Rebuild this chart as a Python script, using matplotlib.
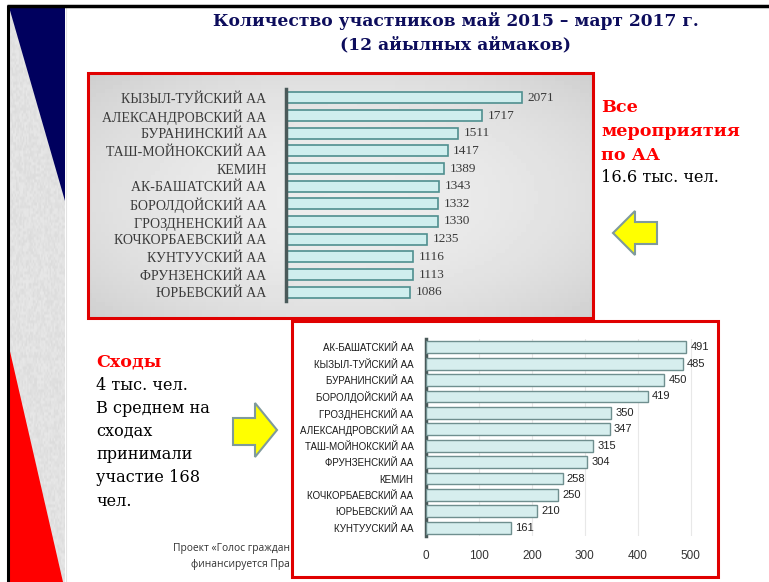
import numpy as np
import matplotlib
matplotlib.use("Agg")
import matplotlib.pyplot as plt
from matplotlib.patches import Polygon, Rectangle

# ---------------- data ----------------
top_labels = ["КЫЗЫЛ-ТУЙСКИЙ АА", "АЛЕКСАНДРОВСКИЙ АА", "БУРАНИНСКИЙ АА",
              "ТАШ-МОЙНОКСКИЙ АА", "КЕМИН", "АК-БАШАТСКИЙ АА",
              "БОРОЛДОЙСКИЙ АА", "ГРОЗДНЕНСКИЙ АА", "КОЧКОРБАЕВСКИЙ АА",
              "КУНТУУСКИЙ АА", "ФРУНЗЕНСКИЙ АА", "ЮРЬЕВСКИЙ АА"]
top_values = [2071, 1717, 1511, 1417, 1389, 1343, 1332, 1330, 1235, 1116, 1113, 1086]

bot_labels = ["АК-БАШАТСКИЙ АА", "КЫЗЫЛ-ТУЙСКИЙ АА", "БУРАНИНСКИЙ АА",
              "БОРОЛДОЙСКИЙ АА", "ГРОЗДНЕНСКИЙ АА", "АЛЕКСАНДРОВСКИЙ АА",
              "ТАШ-МОЙНОКСКИЙ АА", "ФРУНЗЕНСКИЙ АА", "КЕМИН",
              "КОЧКОРБАЕВСКИЙ АА", "ЮРЬЕВСКИЙ АА", "КУНТУУСКИЙ АА"]
bot_values = [491, 485, 450, 419, 350, 347, 315, 304, 258, 250, 210, 161]
bot_ticks = [0, 100, 200, 300, 400, 500]

title_lines = ["Количество участников май 2015 – март 2017 г.", "(12 айылных аймаков)"]

W, H = 769, 582
fig = plt.figure(figsize=(W / 100, H / 100), dpi=100)
fig.patch.set_facecolor("white")

def rect(x0, y0, x1, y1):
    return [x0 / W, 1 - y1 / H, (x1 - x0) / W, (y1 - y0) / H]

SERIF = ["Liberation Serif", "DejaVu Serif"]
WSERIF = ["DejaVu Serif"]
NARROW = ["Liberation Sans Narrow", "Liberation Sans", "DejaVu Sans"]

# ---------------- background / decoration ----------------
bg = fig.add_axes([0, 0, 1, 1])
bg.set_xlim(0, W)
bg.set_ylim(H, 0)
bg.axis("off")

# gray textured band
rng_tex = np.random.default_rng(3)
tex = 0.86 + 0.05 * rng_tex.random((200, 40))
bg.imshow(tex, cmap="gray", vmin=0, vmax=1, extent=(9, 65, H, 7), aspect="auto", zorder=0)
# navy triangle
bg.add_patch(Polygon([(9, 7), (65, 7), (65, 201)], closed=True,
                     facecolor="#00005e", edgecolor="none", zorder=1))
# red triangle
bg.add_patch(Polygon([(9, 347), (63, H), (9, H)], closed=True,
                     facecolor="#ff0000", edgecolor="none", zorder=1))
# black frame lines
bg.plot([8, 8], [5, H], color="black", lw=2.2, zorder=3, solid_capstyle="butt")
bg.plot([7, W], [6, 6], color="black", lw=2.5, zorder=3, solid_capstyle="butt")
bg.plot([65.5, 65.5], [7, H], color="#e4e4e4", lw=0.8, zorder=2)

# title
bg.text(456, 21, title_lines[0], ha="center", va="center", fontsize=12.3,
        fontweight="bold", family=WSERIF, color="#0d0d5c")
bg.text(456, 45, title_lines[1], ha="center", va="center", fontsize=12.3,
        fontweight="bold", family=WSERIF, color="#0d0d5c")

# top panel background gradient + red frame
yy, xx = np.mgrid[0:60, 0:120]
grad = 0.93 - 0.10 * (((xx - 60) / 60.0) ** 2 * 0.6 + ((yy - 30) / 30.0) ** 2 * 0.6)
bg.imshow(grad, cmap="gray", vmin=0, vmax=1, extent=(88, 593, 318, 73), aspect="auto", zorder=2)
bg.add_patch(Rectangle((88, 73), 505, 245, facecolor="none", edgecolor="#e00000", lw=2.2, zorder=4))

# bottom panel
bg.add_patch(Rectangle((292, 321), 426, 256, facecolor="white", edgecolor="#e00000", lw=2.2, zorder=5))

# right text block
bg.text(601, 107, "Все", ha="left", va="center", fontsize=12.6, fontweight="bold", family=WSERIF, color="#ff0000")
bg.text(601, 131, "мероприятия", ha="left", va="center", fontsize=12.6, fontweight="bold", family=WSERIF, color="#ff0000")
bg.text(601, 155, "по АА", ha="left", va="center", fontsize=12.6, fontweight="bold", family=WSERIF, color="#ff0000")
bg.text(601, 178, "16.6 тыс. чел.", ha="left", va="center", fontsize=11.6, family=WSERIF, color="black")

# left text block
bg.text(96, 362, "Сходы", ha="left", va="center", fontsize=12.6, fontweight="bold", family=WSERIF, color="#ff0000")
left_lines = ["4 тыс. чел.", "В среднем на", "сходах", "принимали", "участие 168", "чел."]
for i, s in enumerate(left_lines):
    bg.text(96, 385 + i * 23.2, s, ha="left", va="center", fontsize=11.6, family=WSERIF, color="black")

# arrows
bg.add_patch(Polygon([(613, 233), (635, 211), (635, 222), (657, 222), (657, 244), (635, 244), (635, 255)],
                     closed=True, facecolor="#ffff00", edgecolor="#7f9a9c", lw=1.5, zorder=3))
bg.add_patch(Polygon([(277, 430), (255, 403), (255, 418), (233, 418), (233, 445), (255, 445), (255, 457)],
                     closed=True, facecolor="#ffff00", edgecolor="#7f9a9c", lw=1.5, zorder=3))

# footer
bg.text(290, 549, "Проект «Голос граждан", ha="right", va="center", fontsize=7.4, family=["Open Sans", "DejaVu Sans"], color="#333333")
bg.text(290, 564, "финансируется Пра", ha="right", va="center", fontsize=7.4, family=["Open Sans", "DejaVu Sans"], color="#333333")

# ---------------- top chart ----------------
ax1 = fig.add_axes(rect(286, 89, 590, 301))
ax1.set_facecolor("none")
y1 = np.arange(len(top_values))
ax1.barh(y1, top_values, height=0.62, color="#cfeeee", edgecolor="#4f8f8f", lw=1.2)
ax1.set_xlim(0, 2667)
ax1.set_ylim(len(top_values) - 0.5, -0.5)
ax1.set_yticks(y1)
ax1.set_yticklabels(top_labels, family=SERIF, fontsize=10, color="#3a3a3a")
ax1.tick_params(axis="y", length=0, pad=14)
ax1.set_xticks([])
for s in ["top", "right", "bottom"]:
    ax1.spines[s].set_visible(False)
ax1.spines["left"].set_color("#4a5a5a")
ax1.spines["left"].set_linewidth(2.5)
for yi, v in zip(y1, top_values):
    ax1.text(v + 50, yi, str(v), va="center", ha="left", family=SERIF, fontsize=9.5, color="#3a3a3a")

# ---------------- bottom chart ----------------
ax2 = fig.add_axes(rect(426, 339, 712, 536))
ax2.set_facecolor("none")
y2 = np.arange(len(bot_values))
ax2.barh(y2, bot_values, height=0.72, color="#d6eeee", edgecolor="#6f8f8f", lw=1.0, zorder=3)
ax2.set_xlim(0, 540)
ax2.set_ylim(len(bot_values) - 0.5, -0.5)
ax2.set_xticks(bot_ticks)
ax2.set_xticklabels([str(t) for t in bot_ticks], family=NARROW, fontsize=8.5, color="#333333")
ax2.tick_params(axis="x", length=0, pad=10)
ax2.set_yticks(y2)
ax2.set_yticklabels(bot_labels, family=NARROW, fontsize=7.0, color="#1a1a1a")
ax2.tick_params(axis="y", length=0, pad=9)
ax2.grid(axis="x", color="#e8e8e8", lw=0.8, zorder=0)
for s in ["top", "right", "bottom"]:
    ax2.spines[s].set_visible(False)
ax2.spines["left"].set_color("#4a5a5a")
ax2.spines["left"].set_linewidth(2.5)
for yi, v in zip(y2, bot_values):
    ax2.text(v + 8, yi, str(v), va="center", ha="left", family=NARROW, fontsize=8, color="#222222")

fig.savefig("out.png", dpi=100)
